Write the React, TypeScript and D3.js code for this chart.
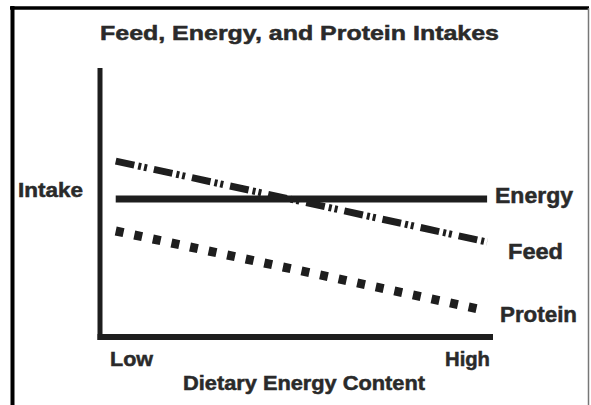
import { useEffect, useRef } from "react";
import * as d3 from "d3";

// Two-point schematic lines, x in [0,1] from Low to High, intake in arbitrary units
const xPoints = [0.04, 0.985];
const energyValues = [51.3, 51.3];
const feedValues = [65.4, 35.3];
const proteinValues = [39.4, 9.7];
const xTickLabels = ["Low", "High"];

const series = [
  { name: "Energy", values: energyValues, width: 7, dash: null, labelX: 495, labelDy: 4, labelW: 78 },
  { name: "Feed", values: feedValues, width: 7, dash: "19 4 3 3 3 7", labelX: 508, labelDy: 17, labelW: 55 },
  { name: "Protein", values: proteinValues, width: 9, dash: "8 11", labelX: 500, labelDy: 11, labelW: 77 },
];

const ink = "#1e1e1e";
const textInk = "#2a2a2a";
const font = "'Liberation Sans', Arial, Helvetica, sans-serif";

export default function App() {
  const svgRef = useRef<SVGSVGElement>(null);

  useEffect(() => {
    if (!svgRef.current) return;
    const width = 591;
    const height = 405;
    const svg = d3.select(svgRef.current);
    svg.selectAll("*").remove();
    svg.attr("width", width).attr("height", height);

    svg.append("rect").attr("width", width).attr("height", height).attr("fill", "#fff");

    // frame (scanned look: thick left/top, thin right)
    svg.append("line").attr("x1", 12.5).attr("x2", 12.5).attr("y1", 6).attr("y2", height)
      .attr("stroke", "#000").attr("stroke-width", 4);
    svg.append("line").attr("x1", 10).attr("x2", 589).attr("y1", 8).attr("y2", 8)
      .attr("stroke", "#000").attr("stroke-width", 3.5);
    svg.append("line").attr("x1", 588.5).attr("x2", 588.5).attr("y1", 8).attr("y2", height)
      .attr("stroke", "#777").attr("stroke-width", 1.5);

    const plot = { left: 100, right: 493, top: 68, bottom: 337 };
    const x = d3.scaleLinear().domain([0, 1]).range([plot.left, plot.right]);
    const y = d3.scaleLinear().domain([0, 100]).range([plot.bottom, plot.top]);

    // axes
    svg.append("line").attr("x1", x(0)).attr("x2", x(0)).attr("y1", y(100)).attr("y2", y(0) + 3)
      .attr("stroke", ink).attr("stroke-width", 5);
    svg.append("line").attr("x1", x(0) - 2.5).attr("x2", x(1)).attr("y1", y(0)).attr("y2", y(0))
      .attr("stroke", ink).attr("stroke-width", 6);

    const line = d3.line<[number, number]>().x((d) => x(d[0])).y((d) => y(d[1]));

    const addText = (t: string, tx: number, ty: number, size: number, w: number) =>
      svg.append("text")
        .attr("x", tx).attr("y", ty)
        .attr("font-family", font).attr("font-weight", "bold").attr("font-size", size)
        .attr("fill", textInk)
        .attr("stroke", textInk).attr("stroke-width", 0.5)
        .attr("textLength", w).attr("lengthAdjust", "spacingAndGlyphs")
        .text(t);

    series.forEach((s) => {
      const pts = xPoints.map((p, i) => [p, s.values[i]] as [number, number]);
      const path = svg.append("path")
        .attr("d", line(pts))
        .attr("fill", "none")
        .attr("stroke", ink)
        .attr("stroke-width", s.width);
      if (s.dash) path.attr("stroke-dasharray", s.dash);

      addText(s.name, s.labelX, y(s.values[1]) + s.labelDy, 22, s.labelW);
    });

    addText("Feed, Energy, and Protein Intakes", 100, 40, 21, 399);
    addText("Intake", 18, 197, 20, 65);
    addText(xTickLabels[0], 110, 366, 20, 43);
    addText(xTickLabels[1], 445, 366, 20, 45);
    addText("Dietary Energy Content", 183, 390, 20, 242);
  }, []);

  return (
    <div style={{ position: "absolute", left: 0, top: 0 }}>
      <svg ref={svgRef} />
    </div>
  );
}
